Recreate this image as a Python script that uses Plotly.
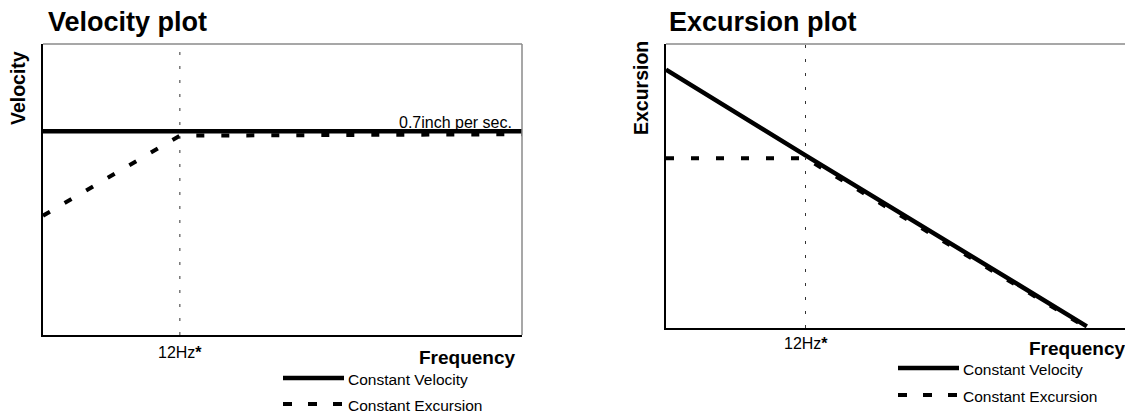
import plotly.graph_objects as go

# page is 1133x414; the html body adds an 8px margin, so the figure is
# made 8px smaller and all pixel positions are shifted by that offset
OFF = 8
W, H = 1133 - OFF, 414 - OFF

# ---------------- data (arbitrary frequency units, 12 = 12 Hz) ----------------
vel_x_const_vel = [0, 42]
vel_y_const_vel = [0.70, 0.70]
vel_x_const_exc = [0, 12, 42]
vel_y_const_exc = [0.41, 0.685, 0.69]

exc_x_const_vel = [0, 12, 36.2]
exc_y_const_vel = [0.91, 0.608, 0.006]
exc_x_const_exc = [0, 12, 36.0]
exc_y_const_exc = [0.598, 0.598, 0.006]

marker_freq = 12
marker_label = "12Hz<b>*</b>"
series_names = ["Constant Velocity", "Constant Excursion"]
titles = ["Velocity plot", "Excursion plot"]
y_titles = ["Velocity", "Excursion"]
x_title = "Frequency"
level_label = "0.7inch per sec."


def px(x):
    return (x - OFF) / W


def py(y):
    return 1 - (y - OFF) / H


FONT = "Arial, Liberation Sans, Helvetica, sans-serif"
SOLID = dict(color="black", width=4.5)
DASHED = dict(color="black", width=4, dash="8px,17px")

fig = go.Figure()
fig.add_trace(go.Scatter(x=vel_x_const_vel, y=vel_y_const_vel, mode="lines",
                         line=SOLID, xaxis="x", yaxis="y", showlegend=False))
fig.add_trace(go.Scatter(x=vel_x_const_exc, y=vel_y_const_exc, mode="lines",
                         line=DASHED, xaxis="x", yaxis="y", showlegend=False))
fig.add_trace(go.Scatter(x=exc_x_const_vel, y=exc_y_const_vel, mode="lines",
                         line=SOLID, xaxis="x2", yaxis="y2", showlegend=False))
fig.add_trace(go.Scatter(x=exc_x_const_exc, y=exc_y_const_exc, mode="lines",
                         line=DASHED, xaxis="x2", yaxis="y2", showlegend=False))

# plot boxes (page pixel geometry)
boxes = [dict(l=43, r=522, t=44, b=335), dict(l=666, r=1131, t=44, b=328)]

axis_common = dict(showgrid=False, zeroline=False, showticklabels=False,
                   ticks="", showline=True, linecolor="black", linewidth=1.5)

fig.update_layout(
    width=W, height=H,
    margin=dict(l=0, r=0, t=0, b=0),
    paper_bgcolor="white", plot_bgcolor="white",
    font=dict(family=FONT, color="black"),
    xaxis=dict(domain=[px(boxes[0]["l"]), px(boxes[0]["r"])], range=[0, 42],
               anchor="y", **axis_common),
    yaxis=dict(domain=[py(boxes[0]["b"]), py(boxes[0]["t"])], range=[0, 1],
               anchor="x", **axis_common),
    xaxis2=dict(domain=[px(boxes[1]["l"]), px(boxes[1]["r"])], range=[0, 40],
                anchor="y2", **axis_common),
    yaxis2=dict(domain=[py(boxes[1]["b"]), py(boxes[1]["t"])], range=[0, 1],
                anchor="x2", **axis_common),
)

shapes = []
annotations = []
for i, bx in enumerate(boxes):
    # grey top and right borders
    shapes.append(dict(type="line", xref="paper", yref="paper",
                       x0=px(bx["l"]), x1=px(bx["r"]), y0=py(bx["t"]), y1=py(bx["t"]),
                       line=dict(color="#8a8a8a", width=1.5)))
    shapes.append(dict(type="line", xref="paper", yref="paper",
                       x0=px(bx["r"]), x1=px(bx["r"]), y0=py(bx["t"]), y1=py(bx["b"]),
                       line=dict(color="#8a8a8a", width=1.5)))
    xr = "x" if i == 0 else "x2"
    # 12 Hz dotted marker
    shapes.append(dict(type="line", xref=xr, yref=("y domain" if i == 0 else "y2 domain"),
                       x0=marker_freq, x1=marker_freq, y0=0, y1=1,
                       line=dict(color="#333333", width=1, dash="3px,11px")))

# titles and labels
annotations += [
    dict(text="<b>%s</b>" % titles[0], x=px(46), y=py(22), xref="paper", yref="paper",
         xanchor="left", yanchor="middle", showarrow=False, font=dict(size=27)),
    dict(text="<b>%s</b>" % titles[1], x=px(667), y=py(22), xref="paper", yref="paper",
         xanchor="left", yanchor="middle", showarrow=False, font=dict(size=27)),
    dict(text="<b>%s</b>" % y_titles[0], x=px(18), y=py(88), xref="paper", yref="paper",
         xanchor="center", yanchor="middle", textangle=-90, showarrow=False,
         font=dict(size=19.5)),
    dict(text="<b>%s</b>" % y_titles[1], x=px(641), y=py(88), xref="paper", yref="paper",
         xanchor="center", yanchor="middle", textangle=-90, showarrow=False,
         font=dict(size=19.5)),
    dict(text=level_label, x=px(514), y=py(122), xref="paper", yref="paper",
         xanchor="right", yanchor="middle", showarrow=False, font=dict(size=16)),
    dict(text=marker_label, x=marker_freq, y=py(352), xref="x", yref="paper",
         xanchor="center", yanchor="middle", showarrow=False, font=dict(size=16)),
    dict(text=marker_label, x=marker_freq, y=py(343), xref="x2", yref="paper",
         xanchor="center", yanchor="middle", showarrow=False, font=dict(size=16)),
    dict(text="<b>%s</b>" % x_title, x=px(518), y=py(357), xref="paper", yref="paper",
         xanchor="right", yanchor="middle", showarrow=False, font=dict(size=19)),
    dict(text="<b>%s</b>" % x_title, x=px(1128), y=py(348), xref="paper", yref="paper",
         xanchor="right", yanchor="middle", showarrow=False, font=dict(size=19)),
]

# hand-made legends
legends = [dict(x0=283, x1=344, y_sol=378, y_dash=404),
           dict(x0=898, x1=959, y_sol=368, y_dash=395)]
for lg in legends:
    shapes.append(dict(type="line", xref="paper", yref="paper",
                       x0=px(lg["x0"]), x1=px(lg["x1"]),
                       y0=py(lg["y_sol"]), y1=py(lg["y_sol"]), line=SOLID))
    shapes.append(dict(type="line", xref="paper", yref="paper",
                       x0=px(lg["x0"]), x1=px(lg["x1"]),
                       y0=py(lg["y_dash"]), y1=py(lg["y_dash"]),
                       line=dict(color="black", width=4, dash="9px,16px")))
    annotations.append(dict(text=series_names[0], x=px(lg["x1"] + 2), y=py(lg["y_sol"] + 1),
                            xref="paper", yref="paper", xanchor="left", yanchor="middle",
                            showarrow=False, font=dict(size=15.5)))
    annotations.append(dict(text=series_names[1], x=px(lg["x1"] + 2), y=py(lg["y_dash"] + 1),
                            xref="paper", yref="paper", xanchor="left", yanchor="middle",
                            showarrow=False, font=dict(size=15.5)))

fig.update_layout(shapes=shapes, annotations=annotations)
fig.write_html("out.html")
